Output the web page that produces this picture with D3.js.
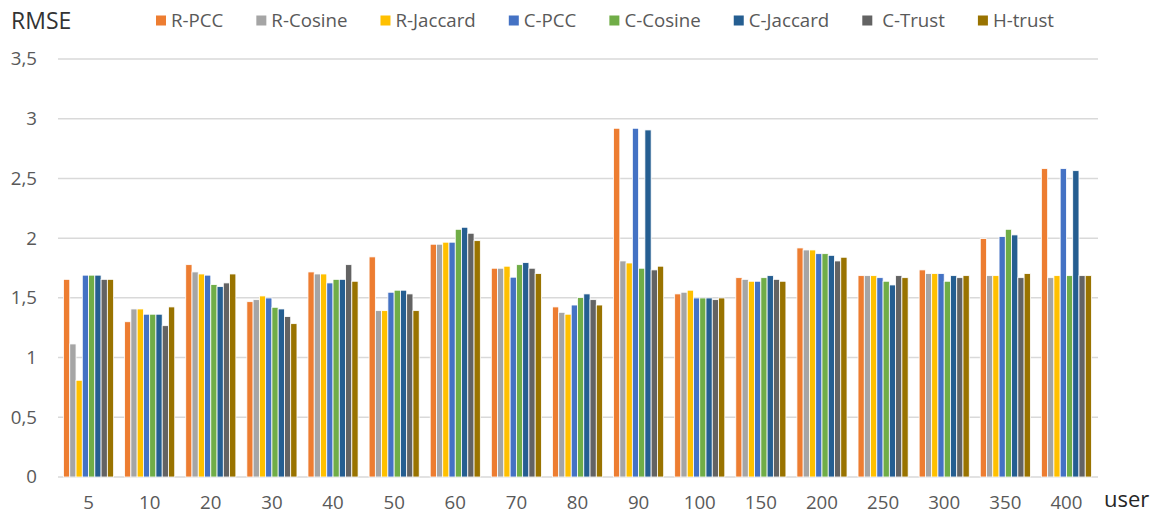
<!DOCTYPE html>
<html>
<head>
<meta charset="utf-8">
<script src="https://cdn.jsdelivr.net/npm/d3@7"></script>
<style>
  html, body { margin: 0; padding: 0; background: #fff; }
  svg { display: block; font-family: "Open Sans", "Noto Sans", sans-serif; }
</style>
</head>
<body>
<svg id="chart" width="1163" height="515"></svg>
<script>
// Number of users per experiment
const categories = ["5", "10", "20", "30", "40", "50", "60", "70", "80", "90", "100", "150", "200", "250", "300", "350", "400"];

// RMSE for each method
const rPCC     = [1.655, 1.30, 1.778, 1.468, 1.717, 1.843, 1.949, 1.748, 1.424, 2.92, 1.533, 1.669, 1.918, 1.686, 1.734, 1.996, 2.582];
const rCosine  = [1.114, 1.407, 1.717, 1.485, 1.70, 1.393, 1.949, 1.748, 1.379, 1.809, 1.547, 1.655, 1.901, 1.686, 1.703, 1.686, 1.669];
const rJaccard = [0.81, 1.407, 1.70, 1.516, 1.70, 1.393, 1.966, 1.765, 1.363, 1.792, 1.564, 1.639, 1.901, 1.686, 1.703, 1.686, 1.686];
const cPCC     = [1.69, 1.363, 1.69, 1.499, 1.625, 1.547, 1.966, 1.673, 1.44, 2.92, 1.499, 1.639, 1.870, 1.669, 1.703, 2.013, 2.582];
const cCosine  = [1.69, 1.363, 1.611, 1.421, 1.655, 1.564, 2.074, 1.778, 1.502, 1.748, 1.499, 1.669, 1.870, 1.639, 1.639, 2.074, 1.686];
const cJaccard = [1.69, 1.363, 1.594, 1.407, 1.655, 1.564, 2.091, 1.795, 1.533, 2.906, 1.499, 1.686, 1.856, 1.608, 1.686, 2.027, 2.565];
const cTrust   = [1.655, 1.267, 1.625, 1.343, 1.778, 1.533, 2.041, 1.748, 1.485, 1.734, 1.485, 1.655, 1.809, 1.686, 1.669, 1.669, 1.686];
const hTrust   = [1.655, 1.424, 1.70, 1.284, 1.639, 1.393, 1.979, 1.703, 1.44, 1.765, 1.499, 1.639, 1.840, 1.669, 1.686, 1.703, 1.686];

const seriesNames = ["R-PCC", "R-Cosine", "R-Jaccard", "C-PCC", "C-Cosine", "C-Jaccard", "C-Trust", "H-trust"];
const seriesValues = [rPCC, rCosine, rJaccard, cPCC, cCosine, cJaccard, cTrust, hTrust];
const seriesColors = ["#ED7D31", "#A5A5A5", "#FFC000", "#4472C4", "#70AD47", "#255E91", "#636363", "#997300"];
const yTicks = [0, 0.5, 1, 1.5, 2, 2.5, 3, 3.5];

const svg = d3.select("#chart");

const x = d3.scaleBand()
  .domain(categories)
  .range([58, 1097])
  .paddingInner(0.18)
  .paddingOuter(0.09);

const xInner = d3.scaleBand()
  .domain(seriesNames)
  .range([0, x.bandwidth()])
  .padding(0);

const y = d3.scaleLinear()
  .domain([0, 3.5])
  .range([477, 59]);

const fmt = d => String(d).replace(".", ",");

// Horizontal gridlines
svg.append("g")
  .selectAll("line")
  .data(yTicks)
  .join("line")
  .attr("x1", 58)
  .attr("x2", 1098)
  .attr("y1", d => y(d))
  .attr("y2", d => y(d))
  .attr("stroke", "#d9d9d9")
  .attr("stroke-width", 1.5);

// Y axis labels
const yAxis = svg.append("g")
  .attr("transform", "translate(46,0)")
  .call(d3.axisLeft(y).tickValues(yTicks).tickFormat(fmt).tickSize(0).tickPadding(9));
yAxis.select(".domain").remove();
yAxis.selectAll("text")
  .attr("fill", "#595959")
  .style("font-size", "18.7px")
  .style("font-family", "'Open Sans', sans-serif");

// X axis labels
const xAxis = svg.append("g")
  .attr("transform", "translate(0,477)")
  .call(d3.axisBottom(x).tickSize(0).tickPadding(19));
xAxis.select(".domain").remove();
xAxis.selectAll("text")
  .attr("fill", "#595959")
  .style("font-size", "18.7px")
  .style("font-family", "'Open Sans', sans-serif");

// Clustered bars
const groups = svg.append("g")
  .selectAll("g")
  .data(categories)
  .join("g")
  .attr("transform", d => `translate(${x(d)},0)`);

groups.selectAll("rect")
  .data((c, i) => seriesNames.map((s, k) => ({ s, k, v: seriesValues[k][i] })))
  .join("rect")
  .attr("x", d => xInner(d.s))
  .attr("width", xInner.bandwidth())
  .attr("y", d => y(d.v))
  .attr("height", d => y(0) - y(d.v))
  .attr("fill", d => seriesColors[d.k])
  .attr("stroke", "#ffffff")
  .attr("stroke-width", 0.8);

// Axis titles
svg.append("text")
  .attr("x", 11)
  .attr("y", 29)
  .attr("fill", "#333333")
  .style("font-size", "23px")
  .text("RMSE");

svg.append("text")
  .attr("x", 1104)
  .attr("y", 507)
  .attr("fill", "#262626")
  .style("font-size", "22px")
  .text("user");

// Legend
const legend = svg.append("g");
let lx = 156;
seriesNames.forEach((name, k) => {
  const item = legend.append("g");
  item.append("rect")
    .attr("x", lx)
    .attr("y", 15.5)
    .attr("width", 10)
    .attr("height", 10)
    .attr("fill", seriesColors[k]);
  const label = name === "C-Trust" ? " " + name : name;
  const t = item.append("text")
    .attr("x", lx + 15)
    .attr("y", 27)
    .attr("fill", "#595959")
    .style("font-size", "18.7px")
    .style("white-space", "pre")
    .text(label);
  lx += 15 + t.node().getComputedTextLength() + 33;
});
</script>
</body>
</html>
